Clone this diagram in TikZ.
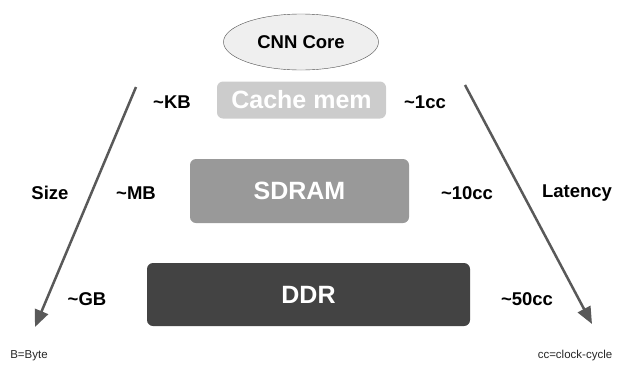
\documentclass[tikz,border=0pt]{standalone}
\usepackage{fontspec}
\setmainfont{Liberation Sans}
\usetikzlibrary{shapes.geometric,arrows.meta}
\definecolor{arrowgray}{HTML}{595959}
\definecolor{cachegray}{HTML}{CCCCCC}
\definecolor{sdramgray}{HTML}{999999}
\definecolor{ddrgray}{HTML}{434343}
\definecolor{ellfill}{HTML}{EFEFEF}
\tikzset{
  lbl/.style={font=\fontsize{18.5}{20}\selectfont\bfseries, text=black, inner sep=0pt},
  small/.style={font=\fontsize{11.5}{13}\selectfont, text=black!85, inner sep=0pt},
  membox/.style={rounded corners=6pt, inner sep=0pt, text=white, font=\fontsize{25}{27}\selectfont\bfseries},
  bigarrow/.style={draw=arrowgray, line width=2.5pt, -{Triangle[length=17pt,width=14pt]}}
}
\begin{document}
\begin{tikzpicture}[x=1pt,y=-1pt]
\useasboundingbox (0,0) rectangle (619,365);
\node[ellipse, draw=black!70, fill=ellfill, minimum width=155pt, minimum height=56pt, lbl] (core) at (301,42) {CNN Core};
\node[membox, fill=cachegray, minimum width=169pt, minimum height=37pt] (cache) at (301.5,100) {Cache mem};
\node[membox, fill=sdramgray, minimum width=219pt, minimum height=64pt] (sdram) at (299.5,191) {SDRAM};
\node[membox, fill=ddrgray, minimum width=323pt, minimum height=63pt] (ddr) at (308.5,294.5) {DDR};
\coordinate (ls) at (136,87);
\coordinate (le) at (35,327);
\coordinate (rs) at (465,85);
\coordinate (re) at (592,324);
\draw[bigarrow] (ls) -- (le);
\draw[bigarrow] (rs) -- (re);
\node[lbl] (kb) at (172,102) {\textasciitilde KB};
\node[lbl] (cc1) at (425,102) {\textasciitilde 1cc};
\node[lbl] (size) at (50,193) {Size};
\node[lbl] (mb) at (136,193) {\textasciitilde MB};
\node[lbl] (cc10) at (467,193) {\textasciitilde 10cc};
\node[lbl] (lat) at (577,193) {Latency};
\node[lbl] (gb) at (87,299) {\textasciitilde GB};
\node[lbl] (cc50) at (527,299) {\textasciitilde 50cc};
\node[small] (byte) at (29,356) {B=Byte};
\node[small] (clk) at (575,356) {cc=clock-cycle};
\end{tikzpicture}
\end{document}
